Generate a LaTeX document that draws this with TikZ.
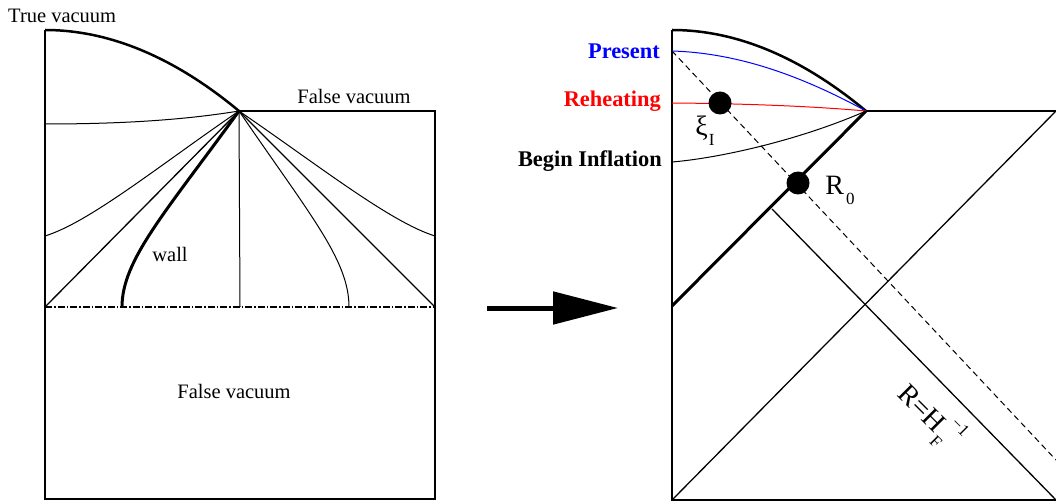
\documentclass[tikz,border=0pt]{standalone}
\usepackage{fontspec}
\setmainfont{Liberation Serif}
\usetikzlibrary{arrows.meta}
\newcommand{\mysub}[1]{\raisebox{-0.36em}{\fontsize{17}{17}\selectfont #1}}
\newcommand{\mysup}[1]{\raisebox{0.62em}{\fontsize{17}{17}\selectfont #1}}
\begin{document}
\begin{tikzpicture}[x=1pt,y=-1pt,
  thickline/.style={line width=2.5pt},
  wallline/.style={line width=3pt},
  thinline/.style={line width=1pt},
  cornerline/.style={line width=1.3pt},
  lbl/.style={inner sep=0pt,font=\fontsize{20.5}{24}\selectfont},
  blbl/.style={inner sep=0pt,font=\fontsize{22.4}{26}\selectfont\bfseries,anchor=east},
  biglbl/.style={inner sep=0pt,font=\fontsize{28}{30}\selectfont},
  dot/.style={circle,fill=black,inner sep=0pt,minimum size=23pt}]
\useasboundingbox (0,0) rectangle (1056,502);
% ---------- left diagram ----------
\coordinate (LTL) at (45,30);
\coordinate (LA) at (239,111);
\coordinate (LTR) at (435,111);
\coordinate (LBL) at (45,499);
\coordinate (LBR) at (435,499);
\coordinate (LML) at (45,307);
\coordinate (LMR) at (435,307);
\coordinate (LC1) at (45,124);
\coordinate (LC2) at (45,236);
\coordinate (RC2) at (435,236);
\coordinate (WB) at (122,307);
\coordinate (VB) at (240,307);
\coordinate (RB) at (349,307);
\draw[thickline] (LTL) .. controls (109,30) and (174,57) .. (LA);
\draw[thickline] (LA) -- (LTR) -- (LBR) -- (LBL) -- (LTL);
\draw[line width=1.3pt,dash pattern=on 7pt off 2pt on 1.5pt off 2pt] (LML) -- (LMR);
\draw[thinline] (LC1) .. controls (130,124) and (190,119) .. (LA);
\draw[thinline] (LC2) .. controls (90,222) and (160,165) .. (LA);
\draw[cornerline] (LML) -- (LA);
\draw[wallline] (LA) .. controls (165,213) and (122,260) .. (WB);
\draw[thinline] (LA) -- (VB);
\draw[thinline] (LA) .. controls (310,215) and (349,260) .. (RB);
\draw[cornerline] (LA) -- (LMR);
\draw[thinline] (LA) .. controls (318,165) and (390,222) .. (RC2);
\node[lbl,anchor=west] (tv) at (8,16) {True vacuum};
\node[lbl] (fv1) at (354,96) {False vacuum};
\node[lbl] (wall) at (170,254) {wall};
\node[lbl] (fv2) at (234,391) {False vacuum};
% ---------- arrow ----------
\coordinate (arS) at (487,308);
\coordinate (arE) at (618,308);
\draw[line width=5pt,-{Triangle[length=65pt,width=32pt]}] (arS) -- (arE);
% ---------- right diagram ----------
\coordinate (RTL) at (672,30);
\coordinate (RA) at (866,111);
\coordinate (RTR) at (1056,111);
\coordinate (RBL) at (672,500);
\coordinate (RBR) at (1056,500);
\coordinate (RWL) at (672,306);
\coordinate (Pr) at (672,51);
\coordinate (Re) at (672,103);
\coordinate (Bi) at (672,162);
\coordinate (Hs) at (772,209);
\coordinate (He) at (1056,500);
\coordinate (Xe) at (1056,111);
\coordinate (De) at (1056,460);
\draw[thickline] (RTL) .. controls (736,30) and (801,57) .. (RA);
\draw[thickline] (RA) -- (RTR);
\draw[thickline] (RTL) -- (RBL) -- (RBR);
\draw[wallline] (RA) -- (RWL);
\draw[blue,thinline] (Pr) .. controls (737,53) and (800,75) .. (RA);
\draw[red,thinline] (Re) .. controls (740,103.5) and (810,106) .. (RA);
\draw[thinline] (Bi) .. controls (720,158) and (800,140) .. (RA);
\draw[cornerline] (Hs) -- (He);
\draw[cornerline] (RBL) -- (Xe);
\draw[thinline,dash pattern=on 6pt off 4pt] (Pr) -- (De);
\node[dot] (d1) at (720,103) {};
\node[dot] (d2) at (798,183) {};
\node[blbl,text=blue] (pres) at (660,51) {Present};
\node[blbl,text=red] (reh) at (661,101) {Reheating};
\node[blbl] (bin) at (662,161) {Begin Inflation};
\node[biglbl] (xi) at (705,131) {ξ\hspace{1pt}\mysub{I}};
\node[biglbl] (r0) at (840,190) {R\hspace{2pt}\mysub{0}};
\node[biglbl,rotate=-45] (rh) at (926,412) {R=H\hspace{1pt}\rlap{\mysup{\hspace{3pt}−1}}\mysub{F}};
\end{tikzpicture}
\end{document}
